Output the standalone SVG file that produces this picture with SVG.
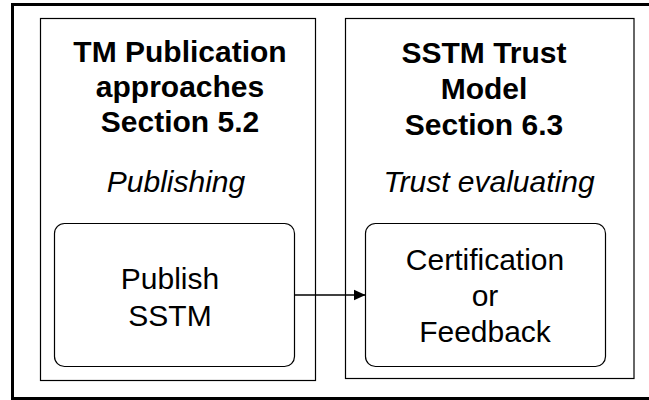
<svg xmlns="http://www.w3.org/2000/svg" width="649" height="400" viewBox="0 0 649 400">
<defs>
<style>
.frame{fill:none;stroke:#000;stroke-width:3}
.panel{fill:#fff;stroke:#000;stroke-width:1.2}
.box{fill:#fff;stroke:#000;stroke-width:1.2}
.t{font-family:"Liberation Sans",Arial,sans-serif;font-size:30px;fill:#000;text-anchor:middle}
.b{font-weight:bold}
.i{font-style:italic}
.conn{fill:none;stroke:#000;stroke-width:1.5}
</style>
<marker id="arr" markerWidth="12" markerHeight="12" refX="12" refY="6" orient="auto" markerUnits="userSpaceOnUse">
<path d="M0,0.5 L12,6 L0,11.5 Z" fill="#000"/>
</marker>
</defs>
<rect width="649" height="400" fill="#fff"/>
<rect class="frame" x="12.5" y="4.5" width="660" height="394"/>
<g id="panel-left">
<rect class="panel" x="40.5" y="18.5" width="275" height="362"/>
<text class="t b" x="180" y="62">TM Publication</text>
<text class="t b" x="180" y="97">approaches</text>
<text class="t b" x="180" y="132">Section 5.2</text>
<text class="t i" x="176" y="192">Publishing</text>
</g>
<g id="panel-right">
<rect class="panel" x="345.5" y="18.5" width="288.5" height="360"/>
<text class="t b" x="484" y="63">SSTM Trust</text>
<text class="t b" x="484" y="99">Model</text>
<text class="t b" x="484" y="135">Section 6.3</text>
<text class="t i" x="489" y="192">Trust evaluating</text>
</g>
<g id="node-publish">
<rect class="box" x="54.5" y="223.5" width="240" height="143" rx="10" ry="10"/>
<text class="t" x="170" y="289">Publish</text>
<text class="t" x="170" y="326">SSTM</text>
</g>
<g id="node-cert">
<rect class="box" x="365.5" y="223.5" width="240" height="143" rx="10" ry="10"/>
<text class="t" x="485" y="270">Certification</text>
<text class="t" x="485" y="306">or</text>
<text class="t" x="485" y="342">Feedback</text>
</g>
<g id="connectors">
<line class="conn" x1="294.5" y1="295" x2="365.5" y2="295" marker-end="url(#arr)"/>
</g>
</svg>
